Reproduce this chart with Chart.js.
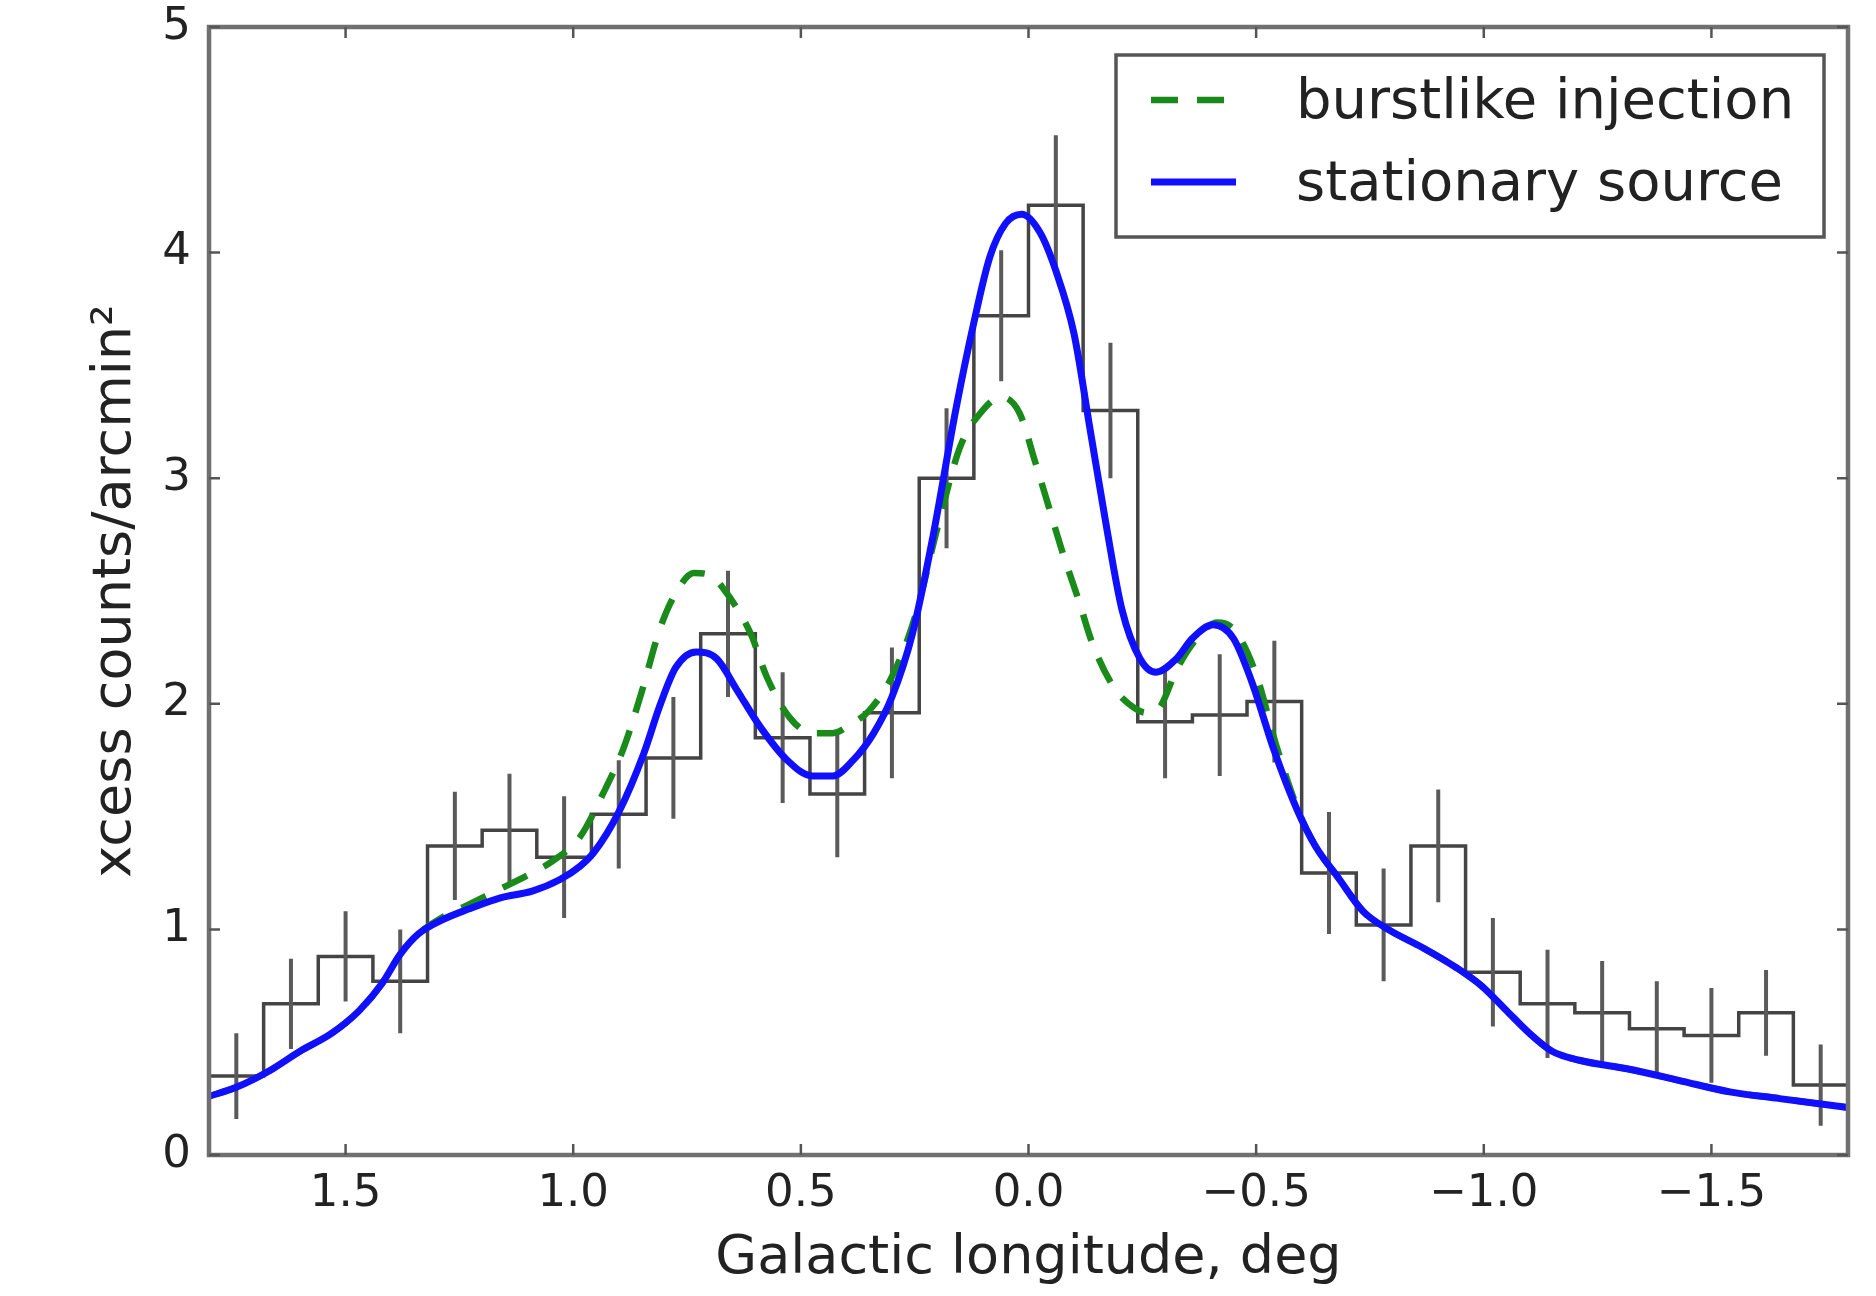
<!DOCTYPE html>
<html><head><meta charset="utf-8">
<script src="https://cdn.jsdelivr.net/npm/chart.js@4.4.1/dist/chart.umd.min.js"></script>
<style>html,body{margin:0;padding:0;background:#fff;overflow:hidden}canvas{display:block}</style>
</head><body>
<canvas id="c" width="1876" height="1296" style="width:1876px;height:1296px"></canvas>
<script>
// ---------- data ----------
const binCenters = [1.74, 1.62, 1.50, 1.38, 1.26, 1.14, 1.02, 0.90, 0.78, 0.66, 0.54, 0.42, 0.30, 0.18, 0.06,
                    -0.06, -0.18, -0.30, -0.42, -0.54, -0.66, -0.78, -0.90, -1.02, -1.14, -1.26, -1.38, -1.50, -1.62, -1.74];
const binWidth = 0.12;
const excessCounts = [0.35, 0.67, 0.88, 0.77, 1.37, 1.44, 1.32, 1.51, 1.76, 2.31, 1.85, 1.60, 1.96, 3.00, 3.72,
                      4.21, 3.30, 1.92, 1.95, 2.01, 1.25, 1.02, 1.37, 0.81, 0.67, 0.63, 0.56, 0.53, 0.63, 0.31];
const countErrors = [0.19, 0.20, 0.20, 0.23, 0.24, 0.25, 0.27, 0.24, 0.27, 0.28, 0.29, 0.28, 0.29, 0.31, 0.29,
                     0.31, 0.30, 0.25, 0.27, 0.27, 0.27, 0.25, 0.25, 0.24, 0.24, 0.23, 0.21, 0.21, 0.19, 0.18];

const stationaryX = [1.80, 1.74, 1.67, 1.60, 1.53, 1.47, 1.42, 1.38, 1.34, 1.29, 1.23, 1.16, 1.09, 1.03, 0.985,
                     0.955, 0.90, 0.845, 0.81, 0.775, 0.73, 0.685, 0.64, 0.59, 0.53, 0.475, 0.43, 0.385, 0.34, 0.30,
                     0.255, 0.21, 0.16, 0.12, 0.085, 0.05, 0.015, -0.025, -0.06, -0.10, -0.135, -0.17, -0.205, -0.245, -0.28,
                     -0.325, -0.36, -0.405, -0.45, -0.49, -0.54, -0.59, -0.63, -0.68, -0.735, -0.79, -0.865, -0.94, -0.995,
                     -1.05, -1.10, -1.15, -1.21, -1.32, -1.43, -1.54, -1.65, -1.80];
const stationaryY = [0.26, 0.30, 0.37, 0.46, 0.54, 0.64, 0.76, 0.89, 0.98, 1.04, 1.09, 1.14, 1.17, 1.22, 1.28,
                     1.34, 1.52, 1.78, 1.99, 2.16, 2.23, 2.20, 2.06, 1.90, 1.75, 1.68, 1.68, 1.75, 1.87, 2.03,
                     2.31, 2.74, 3.30, 3.69, 3.98, 4.13, 4.17, 4.09, 3.92, 3.64, 3.22, 2.80, 2.42, 2.20, 2.14,
                     2.20, 2.29, 2.35, 2.29, 2.10, 1.79, 1.53, 1.37, 1.23, 1.08, 1.00, 0.92, 0.83, 0.75,
                     0.64, 0.54, 0.46, 0.42, 0.38, 0.33, 0.28, 0.25, 0.21];

const burstX = [1.80, 1.74, 1.67, 1.60, 1.53, 1.47, 1.42, 1.38, 1.34, 1.29, 1.23, 1.16, 1.10, 1.04, 0.985,
                0.935, 0.89, 0.85, 0.81, 0.775, 0.735, 0.70, 0.67, 0.61, 0.575, 0.525, 0.475, 0.43, 0.39, 0.35,
                0.30, 0.25, 0.20, 0.15, 0.105, 0.06, 0.02, -0.015, -0.045, -0.075, -0.11, -0.14, -0.185, -0.22, -0.26,
                -0.29, -0.325, -0.37, -0.415, -0.455, -0.50, -0.545, -0.59, -0.63, -0.68, -0.735, -0.79, -0.865, -0.94,
                -0.995, -1.05, -1.10, -1.15, -1.21, -1.32, -1.43, -1.54, -1.65, -1.80];
const burstY = [0.26, 0.30, 0.37, 0.46, 0.54, 0.64, 0.76, 0.89, 0.98, 1.05, 1.11, 1.18, 1.24, 1.31, 1.41,
                1.60, 1.80, 2.05, 2.33, 2.49, 2.58, 2.57, 2.51, 2.31, 2.12, 1.94, 1.87, 1.87, 1.91, 1.97,
                2.12, 2.38, 2.78, 3.14, 3.29, 3.36, 3.29, 3.07, 2.87, 2.67, 2.46, 2.27, 2.08, 2.00, 1.96,
                1.99, 2.15, 2.29, 2.36, 2.32, 2.13, 1.81, 1.54, 1.37, 1.23, 1.08, 1.00, 0.92, 0.83,
                0.75, 0.64, 0.54, 0.46, 0.42, 0.38, 0.33, 0.28, 0.25, 0.21];

const xTickValues = [1.5, 1.0, 0.5, 0.0, -0.5, -1.0, -1.5];
const xTickLabels = ['1.5', '1.0', '0.5', '0.0', '\u22120.5', '\u22121.0', '\u22121.5'];
const yTickValues = [0, 1, 2, 3, 4, 5];
const yTickLabels = ['0', '1', '2', '3', '4', '5'];
const seriesLabels = ['burstlike injection', 'stationary source'];
const xAxisTitle = 'Galactic longitude, deg';
const yAxisTitle = 'xcess counts/arcmin\u00B2';

// ---------- derived tables for the library ----------
const histPoints = [];
binCenters.forEach((c, i) => {
  histPoints.push({x: c + binWidth / 2, y: excessCounts[i]});
  histPoints.push({x: c - binWidth / 2, y: excessCounts[i]});
});
const errPoints = [];
binCenters.forEach((c, i) => {
  errPoints.push({x: c, y: excessCounts[i] - countErrors[i]});
  errPoints.push({x: c, y: excessCounts[i] + countErrors[i]});
  errPoints.push({x: c, y: null});
});
const zip = (xs, ys) => xs.map((x, i) => ({x, y: ys[i]}));

const FONT = '"DejaVu Sans", "Liberation Sans", sans-serif';
const DASH = [27, 19];

const stationaryDs = {
  label: seriesLabels[1], data: zip(stationaryX, stationaryY),
  borderColor: '#1010ff', borderWidth: 7, pointRadius: 0, fill: false,
  cubicInterpolationMode: 'monotone', borderCapStyle: 'round', borderJoinStyle: 'round'
};
const burstDs = {
  label: seriesLabels[0], data: zip(burstX, burstY),
  borderColor: '#1a8a1a', borderWidth: 6.5, borderDash: DASH, pointRadius: 0, fill: false,
  cubicInterpolationMode: 'monotone', borderCapStyle: 'butt'
};
const errDs = {
  label: 'errors', data: errPoints, borderColor: '#5a5a5a', borderWidth: 4,
  pointRadius: 0, spanGaps: false, tension: 0, fill: false
};
const histDs = {
  label: 'data', data: histPoints, borderColor: '#444', borderWidth: 3.5,
  pointRadius: 0, tension: 0, fill: false, borderJoinStyle: 'miter'
};

const framePlugin = {
  id: 'frame',
  afterDatasetsDraw(chart) {
    const {ctx, chartArea: a, scales: {x, y}} = chart;
    ctx.save();
    ctx.strokeStyle = '#707070';
    ctx.lineWidth = 4.5;
    ctx.strokeRect(a.left, a.top, a.right - a.left, a.bottom - a.top);
    ctx.strokeStyle = '#555';
    ctx.lineWidth = 2.5;
    const tl = 11;
    ctx.beginPath();
    xTickValues.forEach(v => {
      const px = x.getPixelForValue(v);
      ctx.moveTo(px, a.bottom); ctx.lineTo(px, a.bottom - tl);
      ctx.moveTo(px, a.top); ctx.lineTo(px, a.top + tl);
    });
    yTickValues.forEach(v => {
      const py = y.getPixelForValue(v);
      ctx.moveTo(a.left, py); ctx.lineTo(a.left + tl, py);
      ctx.moveTo(a.right, py); ctx.lineTo(a.right - tl, py);
    });
    ctx.stroke();
    ctx.restore();
  }
};

const legendPlugin = {
  id: 'boxLegend',
  afterDraw(chart) {
    const {ctx, chartArea: a} = chart;
    const r = a.right - 24, t = a.top + 28, l = r - 708, b = t + 182;
    ctx.save();
    ctx.fillStyle = '#fff';
    ctx.fillRect(l, t, r - l, b - t);
    ctx.strokeStyle = '#555';
    ctx.lineWidth = 3.5;
    ctx.strokeRect(l, t, r - l, b - t);
    const rowsY = [t + 48, t + 130];
    [burstDs, stationaryDs].forEach((ds, i) => {
      ctx.strokeStyle = ds.borderColor;
      ctx.lineWidth = ds.borderWidth;
      ctx.setLineDash(ds.borderDash || []);
      ctx.lineCap = 'butt';
      ctx.beginPath();
      ctx.moveTo(l + 35, rowsY[i] - 3);
      ctx.lineTo(l + 120, rowsY[i] - 3);
      ctx.stroke();
      ctx.setLineDash([]);
      ctx.fillStyle = '#222';
      ctx.font = '56px ' + FONT;
      ctx.textBaseline = 'middle';
      ctx.textAlign = 'left';
      ctx.fillText(ds.label, l + 180, rowsY[i]);
    });
    ctx.restore();
  }
};

new Chart(document.getElementById('c'), {
  type: 'line',
  data: {datasets: [stationaryDs, burstDs, errDs, histDs]},
  options: {
    responsive: false, animation: false, devicePixelRatio: 1,
    layout: {padding: {left: 0, right: 28, top: 27, bottom: 0}},
    scales: {
      x: {
        type: 'linear', min: -1.8, max: 1.8, reverse: true,
        afterBuildTicks: s => { s.ticks = xTickValues.map(v => ({value: v})); },
        afterFit: s => { s.height = 141; s.paddingLeft = 0; s.paddingRight = 0; },
        grid: {display: false, drawTicks: false},
        border: {display: false},
        ticks: {
          autoSkip: false, maxRotation: 0, padding: 12, color: '#222',
          font: {family: FONT, size: 45},
          callback: (v, i) => xTickLabels[i]
        },
        title: {display: true, text: xAxisTitle, color: '#222',
                font: {family: FONT, size: 54, lineHeight: 1}, padding: {top: 0, bottom: 10}}
      },
      y: {
        type: 'linear', min: 0, max: 5,
        afterBuildTicks: s => { s.ticks = yTickValues.map(v => ({value: v})); },
        afterFit: s => { s.width = 209; s.paddingTop = 0; s.paddingBottom = 0; },
        grid: {display: false, drawTicks: false},
        border: {display: false},
        ticks: {
          padding: 18, color: '#222',
          font: {family: FONT, size: 45},
          callback: (v, i) => yTickLabels[i]
        },
        title: {display: true, text: yAxisTitle, color: '#222',
                font: {family: FONT, size: 54, lineHeight: 1}, padding: {top: 89, bottom: 0}}
      }
    },
    plugins: {legend: {display: false}, tooltip: {enabled: false}}
  },
  plugins: [framePlugin, legendPlugin]
});
</script>
</body></html>
